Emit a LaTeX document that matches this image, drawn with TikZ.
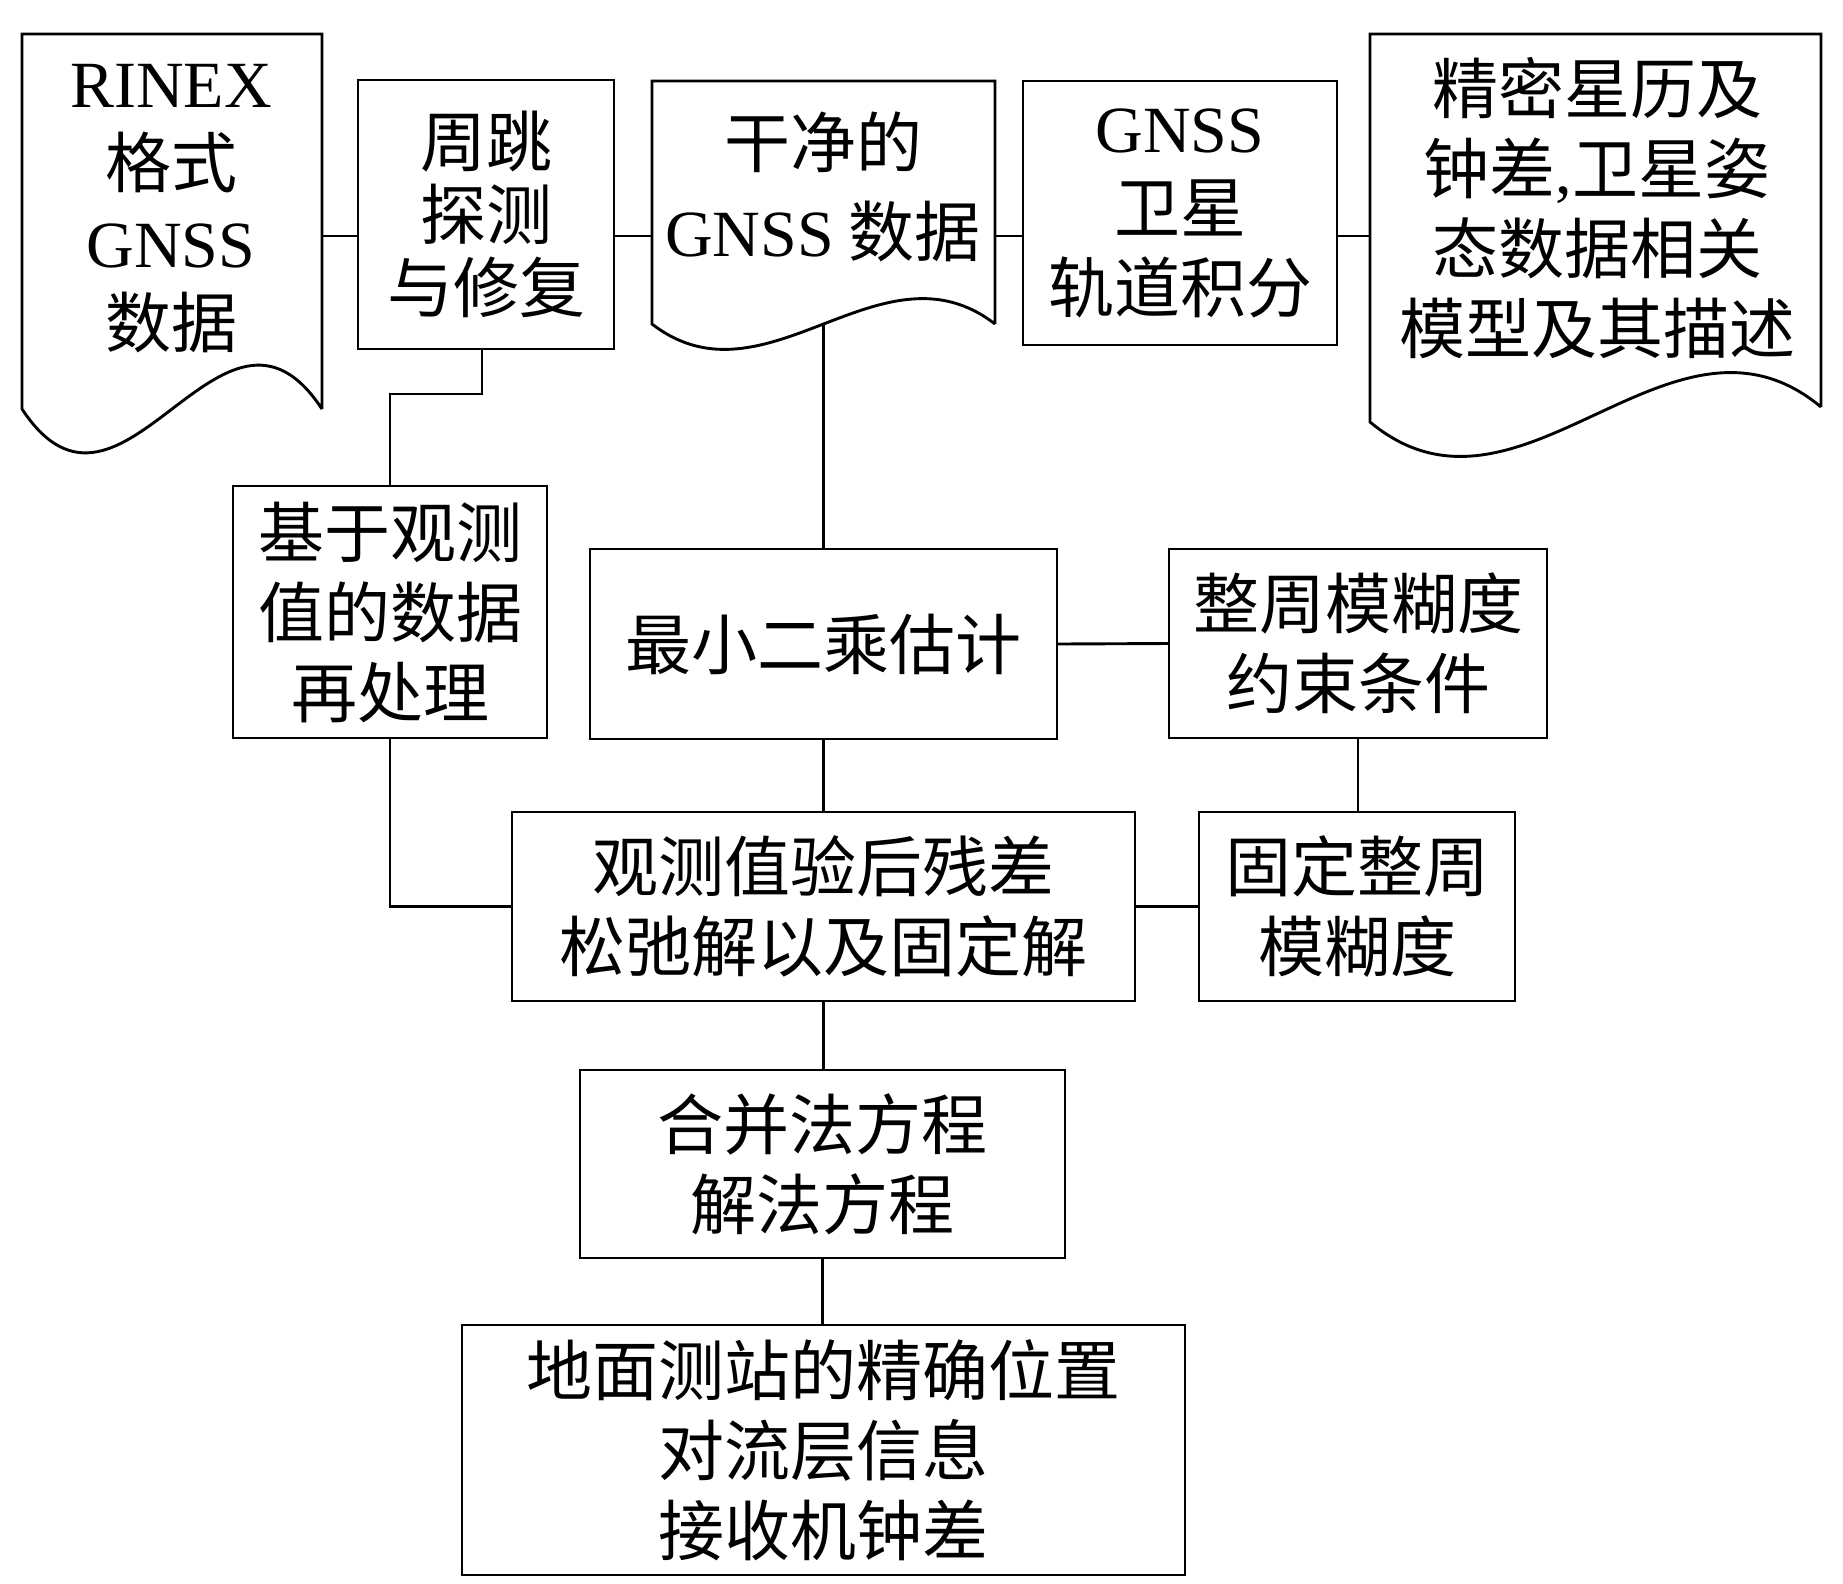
\documentclass[tikz,border=0pt]{standalone}
\usepackage{fontspec}
\setmainfont{Liberation Serif}
\newfontfamily\cjk{Noto Sans CJK SC}
\newfontfamily\lat{Liberation Serif}
\begin{document}
\begin{tikzpicture}[x=1pt,y=-1pt,
  line width=2.9pt,
  bx/.style={draw, rectangle, inner sep=0pt, outer sep=0pt, align=center, font=\cjk\fontsize{66}{80}\selectfont},
  shp/.style={rectangle, inner sep=0pt, outer sep=0pt, draw=none},
  txt/.style={inner sep=0pt, outer sep=0pt, align=center, font=\cjk\fontsize{66}{80}\selectfont},
  conn/.style={line width=2.9pt},
  docline/.style={line width=2.9pt, line join=miter}
]
\fill[white] (0,0) rectangle (1843,1583);
\path[use as bounding box] (0,0) rectangle (1843,1583);
\coordinate (toprow) at (0,236);

% document shapes (outline areas)
\node[shp, minimum width=300pt, minimum height=375pt] (rinex) at (172,221.5) {};
\node[txt] (rinexT) at (171,209) {{\lat RINEX}\\格式\\{\lat GNSS}\\数据};

\node[bx, minimum width=256pt, minimum height=269pt, font=\cjk\fontsize{66}{73}\selectfont] (zhou) at (486,214.5) {周跳\\探测\\与修复};

\node[shp, minimum width=343pt, minimum height=243pt] (clean) at (823.5,202.5) {};
\node[txt, font=\cjk\fontsize{66}{89}\selectfont] (cleanT) at (823,187) {干净的\\{\lat GNSS} 数据};

\node[bx, minimum width=314pt, minimum height=264pt] (gnss) at (1180,213) {{\lat GNSS}\\卫星\\轨道积分};

\node[shp, minimum width=451pt, minimum height=373pt] (jm) at (1595.5,220.5) {};
\node[txt] (jmT) at (1597,208) {精密星历及\\钟差{\lat ,}卫星姿\\态数据相关\\模型及其描述};

\node[bx, minimum width=314pt, minimum height=252pt] (jiyu) at (390,612) {基于观测\\值的数据\\再处理};
\node[bx, minimum width=467pt, minimum height=190pt] (lsq) at (823.5,644) {最小二乘估计};
\node[bx, minimum width=378pt, minimum height=189pt] (zheng) at (1358,643.5) {整周模糊度\\约束条件};
\node[bx, minimum width=623pt, minimum height=189pt] (obs) at (823.5,906.5) {观测值验后残差\\松弛解以及固定解};
\node[bx, minimum width=316pt, minimum height=189pt] (gu) at (1357,906.5) {固定整周\\模糊度};
\node[bx, minimum width=485pt, minimum height=188pt] (hb) at (822.5,1164) {合并法方程\\解法方程};
\node[bx, minimum width=723pt, minimum height=250pt] (dm) at (823.5,1450) {地面测站的精确位置\\对流层信息\\接收机钟差};

% document outlines with wavy bottoms
\draw[docline] (rinex.south east) -- (rinex.north east) -- (rinex.north west) -- (rinex.south west)
  .. controls +(100,152) and +(-100,-152) .. (rinex.south east);
\draw[docline] (clean.south east) -- (clean.north east) -- (clean.north west) -- (clean.south west)
  .. controls +(114,88) and +(-114,-88) .. (clean.south east) coordinate[pos=0.5] (cleanbot);
\draw[docline] (jm.south east) -- (jm.north east) -- (jm.north west) -- ([yshift=-15pt]jm.south west)
  .. controls +(150,125) and +(-150,-125) .. (jm.south east);

% connectors
\draw[conn] (rinex.east |- toprow) -- (zhou.west |- toprow);
\draw[conn] (zhou.east |- toprow) -- (clean.west |- toprow);
\draw[conn] (clean.east |- toprow) -- (gnss.west |- toprow);
\draw[conn] (gnss.east |- toprow) -- (jm.west |- toprow);
\draw[conn] ([xshift=-4pt]zhou.south) -- ++(0,45) -| (jiyu.north);
\draw[conn] (cleanbot) -- (lsq.north);
\draw[conn] (lsq.east) -- (zheng.west);
\draw[conn] (zheng.south) -- (zheng.south |- gu.north);
\draw[conn] (lsq.south) -- (obs.north);
\draw[conn] (jiyu.south) |- (obs.west);
\draw[conn] (obs.east) -- (gu.west);
\draw[conn] (obs.south) -- (obs.south |- hb.north);
\draw[conn] (hb.south) -- (hb.south |- dm.north);
\end{tikzpicture}
\end{document}
